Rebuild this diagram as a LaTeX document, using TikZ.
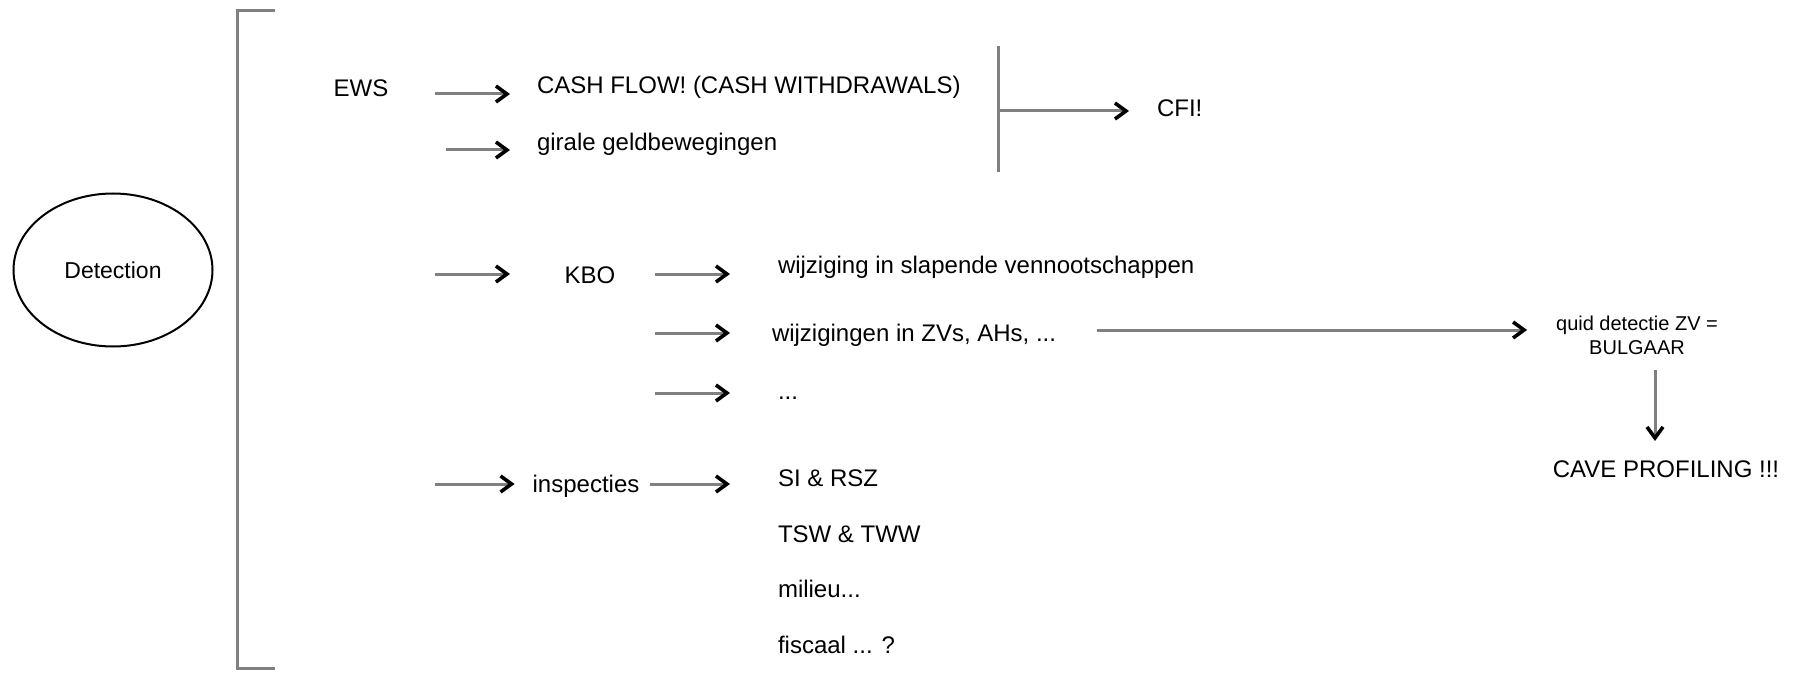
\documentclass[tikz,border=0pt]{standalone}
\usepackage{fontspec}
\setmainfont{Liberation Sans}
\usetikzlibrary{arrows.meta,shapes.geometric}
\definecolor{shaft}{RGB}{128,128,128}
\tikzset{
  txt/.style={inner sep=0pt,outer sep=0pt,anchor=west,text height=17pt,text depth=5pt,font=\fontsize{24}{28}\selectfont},
  ctxt/.style={txt,anchor=center},
  arr/.style={draw=shaft,line width=3pt,-{Straight Barb[length=11pt,width=16pt,line width=3.6pt,black]}},
  brk/.style={draw=shaft,line width=3pt},
}
\begin{document}
\begin{tikzpicture}[x=1pt,y=-1pt]
\useasboundingbox (0,0) rectangle (1797,674);
% left ellipse
\node[ellipse,draw=black,line width=2pt,minimum width=199pt,minimum height=153pt,font=\fontsize{23}{27}\selectfont] (det) at (113,270) {Detection};
% bracket
\coordinate (bt) at (275,11);
\coordinate (bb) at (275,668);
\draw[brk] (bt) -- (237,11) -- (237,668) -- (bb);
% EWS group
\node[ctxt] (ews) at (361,91) {EWS};
\node[txt] (cash) at (537,88) {CASH FLOW! (CASH WITHDRAWALS)};
\node[txt] (gir) at (537,144) {girale geldbewegingen};
\coordinate (a1) at (435,94);
\coordinate (a2) at (446,150);
\draw[arr] (a1) -- ([xshift=-27pt]cash.west |- a1);
\draw[arr] (a2) -- ([xshift=-27pt]gir.west |- a2);
\coordinate (vt) at (998,46);
\coordinate (vb) at (998,172);
\coordinate (vm) at (998,111);
\draw[brk] (vt) -- (vb);
\node[txt] (cfi) at (1157,111) {CFI!};
\draw[arr] (vm) -- ([xshift=-28pt]cfi.west);
% KBO group
\node[ctxt] (kbo) at (590,277) {KBO};
\coordinate (a3) at (435,274);
\draw[arr] (a3) -- ([xshift=-80pt]kbo.center |- a3);
\node[txt] (w1) at (778,267) {wijziging in slapende vennootschappen};
\node[txt] (w2) at (772,335) {wijzigingen in ZVs, AHs, ...};
\node[txt] (w3) at (778,393) {...};
\draw[arr] ([xshift=65pt]kbo.center |- a3) -- ([xshift=-48pt]w1.west |- a3);
\coordinate (a5) at (655,333);
\draw[arr] (a5) -- ([xshift=-42pt]w2.west |- a5);
\coordinate (a6) at (655,393);
\draw[arr] (a6) -- ([xshift=-48pt]w3.west);
% right branch
\node[inner sep=0pt,outer sep=0pt,align=center,font=\fontsize{20}{24}\selectfont] (quid) at (1637,335) {quid detectie ZV =\\BULGAAR};
\coordinate (lg) at (1097,330);
\draw[arr] (lg) -- ([xshift=-29pt]quid.west |- lg);
\node[txt,anchor=center] (cave) at (1666,471) {CAVE PROFILING !!!};
\coordinate (dn) at (1655,370);
\draw[arr] (dn) -- ([yshift=19pt]cave.north -| dn);
% inspecties group
\node[ctxt] (insp) at (586,486) {inspecties};
\coordinate (a7) at (435,484);
\draw[arr] (a7) -- ([xshift=-18pt]insp.west |- a7);
\node[txt] (si) at (778,480) {SI \& RSZ};
\node[txt] (tsw) at (778,536) {TSW \& TWW};
\node[txt] (mil) at (778,591) {milieu...};
\node[txt] (fis) at (778,647) {fiscaal ... ?};
\draw[arr] ([xshift=11pt]insp.east |- a7) -- ([xshift=-48pt]si.west |- a7);
\end{tikzpicture}
\end{document}
